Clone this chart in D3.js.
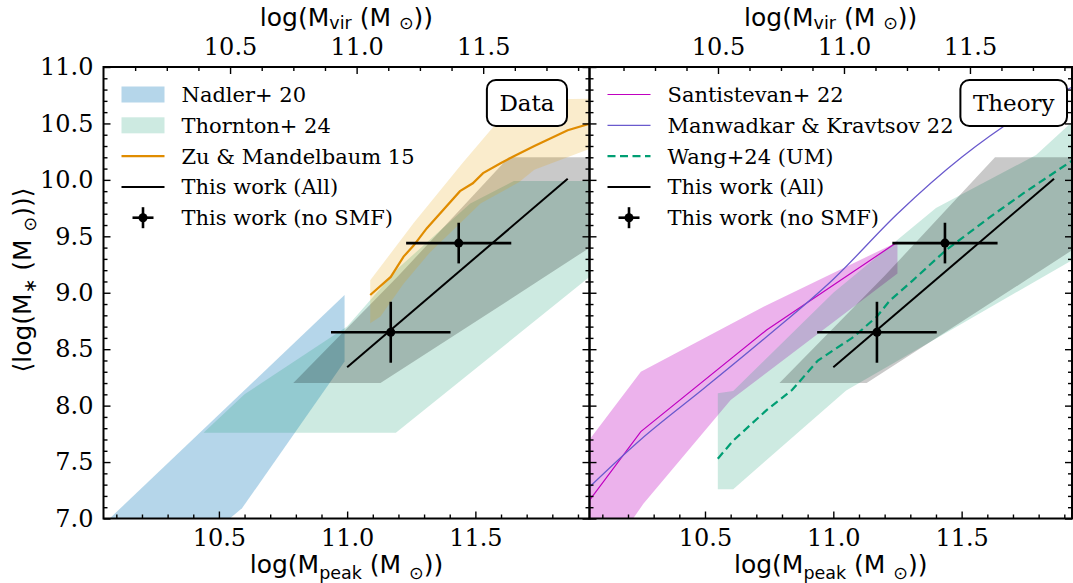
<!DOCTYPE html>
<html>
<head>
<meta charset="utf-8">
<script src="https://cdn.jsdelivr.net/npm/d3@7"></script>
<style>
  body { margin: 0; background: #fff; }
  svg { display: block; }
</style>
</head>
<body>
<script>
"use strict";

// Width and Height of the whole figure
var width = 1073;
var height = 583;

// tick labels
var peakTicks = [10.5, 11.0, 11.5];
var virTicks = [10.5, 11.0, 11.5];
var yTicks = [7.0, 7.5, 8.0, 8.5, 9.0, 9.5, 10.0, 10.5, 11.0];

// ---- Data panel ----
// Nadler+ 20 band: [log Mpeak, log M*]
var nadlerUpper = [[10.0, 6.84], [10.99, 8.98]];
var nadlerLower = [[10.5, 6.92], [10.59, 7.09], [10.99, 8.39]];

// Thornton+ 24 band
var thorntonUpper = [[10.44, 7.76], [10.6, 8.10], [11.0, 8.70], [11.2, 9.22], [11.48, 9.79], [11.65, 9.99], [12.0, 9.99]];
var thorntonLower = [[10.44, 7.76], [11.19, 7.76], [12.0, 9.24]];

// Zu & Mandelbaum 15 line and band
var zuLine = [[11.09, 8.98], [11.17, 9.14], [11.22, 9.32], [11.26, 9.42], [11.31, 9.57], [11.44, 9.90], [11.49, 9.97],
  [11.53, 10.06], [11.60, 10.15], [11.65, 10.21], [11.73, 10.30], [11.86, 10.44], [11.95, 10.50]];
var zuUpper = [[11.09, 9.11], [11.26, 9.62], [11.45, 10.15], [11.66, 10.71], [12.0, 10.72]];
var zuLower = [[11.09, 8.73], [11.13, 8.79], [11.22, 9.08], [11.32, 9.35], [11.52, 9.79], [11.67, 9.98], [11.73, 10.09], [12.0, 10.32]];

// ---- Theory panel ----
var santiLine = [[10.0, 7.01], [10.25, 7.77], [10.74, 8.67], [11.25, 9.45]];
var santiUpper = [[10.0, 7.55], [10.25, 8.30], [10.74, 8.89], [11.25, 9.45]];
var santiLower = [[10.0, 6.6], [10.22, 7.0], [10.26, 7.13], [10.6, 8.05], [11.25, 9.17]];

var manwadkarLine = [[10.0, 7.17], [10.25, 7.70], [10.5, 8.16], [10.74, 8.61], [11.0, 9.12], [11.25, 9.70],
  [11.5, 10.2], [11.75, 10.6], [12.0, 10.9]];

var wangLine = [[10.55, 7.53], [10.61, 7.69], [10.74, 7.96], [10.84, 8.14], [10.94, 8.40], [11.0, 8.49], [11.08, 8.61],
  [11.17, 8.79], [11.22, 8.93], [11.31, 9.11], [11.44, 9.38], [11.61, 9.67], [11.74, 9.88], [11.93, 10.17], [12.0, 10.27]];
var wangUpper = [[10.55, 8.11], [10.61, 8.13], [11.0, 9.0], [11.4, 9.75], [11.79, 10.22], [12.0, 10.66]];
var wangLower = [[10.55, 7.26], [10.61, 7.26], [11.05, 8.135], [12.0, 9.38]];

// ---- This work (both panels) ----
var allLine = [[11.0, 8.34], [11.86, 10.01]];
var allUpper = [[10.79, 8.2], [11.2, 9.15], [11.63, 10.2], [12.0, 10.2]];
var allLower = [[10.79, 8.2], [11.13, 8.2], [11.75, 9.11], [12.0, 9.48]];

var noSmfX = [11.17, 11.435];
var noSmfY = [8.65, 9.44];
var noSmfXerr = [0.233, 0.205];
var noSmfYerr = [0.27, 0.18];

// Create SVG
var svg = d3.select("body")
  .append("svg")
  .attr("width", width)
  .attr("height", height);

var y = d3.scaleLinear().domain([7, 11]).range([518.5, 67]);

var panels = [
  { id: "data", x0: 103.5, x1: 589.5, dom: [10.05, 11.945], top: [10.0, 11.92], label: "Data", boxRight: 22.5, yLabels: true },
  { id: "theory", x0: 589.5, x1: 1072, dom: [10.05, 11.93], top: [9.99, 11.905], label: "Theory", boxRight: 5, yLabels: false }
];

var serif = "'DejaVu Serif', serif";
var sans = "'DejaVu Sans', sans-serif";

function band(g, xs, up, lo, color, op) {
  var pts = up.concat(lo.slice().reverse());
  g.append("path")
    .attr("d", d3.line().x(d => xs(d[0])).y(d => y(d[1]))(pts) + "Z")
    .attr("fill", color)
    .attr("fill-opacity", op)
    .attr("stroke", "none");
}

function curve(g, xs, pts, color, w, dash, smooth) {
  g.append("path")
    .attr("d", d3.line().curve(smooth ? d3.curveMonotoneX : d3.curveLinear)
      .x(d => xs(d[0])).y(d => y(d[1]))(pts))
    .attr("fill", "none")
    .attr("stroke", color)
    .attr("stroke-width", w)
    .attr("stroke-dasharray", dash || null);
}

function errbars(g, xs) {
  noSmfX.forEach(function (v, i) {
    g.append("line")
      .attr("x1", xs(v - noSmfXerr[i])).attr("x2", xs(v + noSmfXerr[i]))
      .attr("y1", y(noSmfY[i])).attr("y2", y(noSmfY[i]))
      .attr("stroke", "#000").attr("stroke-width", 2.6);
    g.append("line")
      .attr("x1", xs(v)).attr("x2", xs(v))
      .attr("y1", y(noSmfY[i] - noSmfYerr[i])).attr("y2", y(noSmfY[i] + noSmfYerr[i]))
      .attr("stroke", "#000").attr("stroke-width", 2.6);
    g.append("circle")
      .attr("cx", xs(v)).attr("cy", y(noSmfY[i])).attr("r", 4.5)
      .attr("fill", "#000");
  });
}

// text with subscripts, parts = [[string, isSub], ...]
function rich(t, parts, size, sub) {
  var shift = 0;
  parts.forEach(function (p) {
    var want = p[1] ? size * sub : 0;
    t.append("tspan")
      .attr("dy", want - shift)
      .attr("font-size", p[1] ? size * 0.7 : size)
      .text(p[0]);
    shift = want;
  });
}

function styleAxis(a) {
  a.select(".domain").remove();
  a.selectAll(".tick line").attr("stroke", "#000").attr("stroke-width", 1.4);
  a.attr("font-family", serif).attr("font-size", 24);
  a.selectAll("text").attr("fill", "#000");
}

var minorPeak = d3.range(101, 120).map(d => d / 10).filter(d => Math.round(d * 10) % 5 !== 0);
var minorY = d3.range(70, 111).map(d => d / 10).filter(d => Math.round(d * 10) % 5 !== 0);
var minorVir = d3.range(0, 16).map(i => 10 + i * 0.125).filter(d => virTicks.indexOf(d) < 0 && d > 10.0);
var fmt = d3.format(".1f");

panels.forEach(function (p) {
  var xs = d3.scaleLinear().domain(p.dom).range([p.x0, p.x1]);
  var xt = d3.scaleLinear().domain(p.top).range([p.x0, p.x1]);
  var g = svg.append("g");

  svg.append("clipPath").attr("id", "clip-" + p.id)
    .append("rect")
    .attr("x", p.x0).attr("y", y(11))
    .attr("width", p.x1 - p.x0).attr("height", y(7) - y(11));

  var plot = g.append("g").attr("clip-path", "url(#clip-" + p.id + ")");

  if (p.id === "data") {
    band(plot, xs, nadlerUpper, nadlerLower, "#6baed6", 0.5);
    band(plot, xs, thorntonUpper, thorntonLower, "#1b9e77", 0.22);
    band(plot, xs, allUpper, allLower, "#000", 0.21);
    band(plot, xs, zuUpper, zuLower, "#e69f00", 0.2);
    curve(plot, xs, zuLine, "#e08c00", 2.2);
  } else {
    band(plot, xs, santiUpper, santiLower, "#bf00bf", 0.3);
    band(plot, xs, wangUpper, wangLower, "#1b9e77", 0.22);
    band(plot, xs, allUpper, allLower, "#000", 0.21);
    curve(plot, xs, santiLine, "#c000c0", 1.2);
    curve(plot, xs, manwadkarLine, "#6a5acd", 1.3, null, true);
    curve(plot, xs, wangLine, "#009e73", 2.2, "8,4.5");
  }
  curve(plot, xs, allLine, "#000", 2);
  errbars(plot, xs);

  // axes, ticks pointing inward
  var bottom = g.append("g").attr("transform", "translate(0," + y(7) + ")");
  bottom.append("g").call(d3.axisBottom(xs).tickValues(peakTicks).tickSize(-7).tickPadding(10).tickFormat(fmt));
  bottom.append("g").call(d3.axisBottom(xs).tickValues(minorPeak).tickSize(-4).tickFormat(""));
  bottom.selectAll("g").each(function () { styleAxis(d3.select(this)); });

  var top = g.append("g").attr("transform", "translate(0," + y(11) + ")");
  top.append("g").call(d3.axisTop(xt).tickValues(virTicks).tickSize(-7).tickPadding(12).tickFormat(fmt));
  top.append("g").call(d3.axisTop(xt).tickValues(minorVir).tickSize(-4).tickFormat(""));
  top.selectAll("g").each(function () { styleAxis(d3.select(this)); });

  var left = g.append("g").attr("transform", "translate(" + p.x0 + ",0)");
  left.append("g").call(d3.axisLeft(y).tickValues(yTicks).tickSize(-7).tickPadding(10).tickFormat(p.yLabels ? fmt : ""));
  left.append("g").call(d3.axisLeft(y).tickValues(minorY).tickSize(-4).tickFormat(""));
  left.selectAll("g").each(function () { styleAxis(d3.select(this)); });

  var right = g.append("g").attr("transform", "translate(" + p.x1 + ",0)");
  right.append("g").call(d3.axisRight(y).tickValues(yTicks).tickSize(-7).tickFormat(""));
  right.append("g").call(d3.axisRight(y).tickValues(minorY).tickSize(-4).tickFormat(""));
  right.selectAll("g").each(function () { styleAxis(d3.select(this)); });

  // spines
  g.append("rect")
    .attr("x", p.x0).attr("y", y(11))
    .attr("width", p.x1 - p.x0).attr("height", y(7) - y(11))
    .attr("fill", "none").attr("stroke", "#000").attr("stroke-width", 2);

  // axis labels
  var cx = (p.x0 + p.x1) / 2;
  rich(g.append("text").attr("x", cx).attr("y", 573).attr("text-anchor", "middle")
    .attr("font-family", sans).attr("fill", "#000"),
    [["log(M", 0], ["peak", 1], [" (M ", 0], ["\u2299", 1], ["))", 0]], 25, 0.22);
  rich(g.append("text").attr("x", cx).attr("y", 26).attr("text-anchor", "middle")
    .attr("font-family", sans).attr("fill", "#000"),
    [["log(M", 0], ["vir", 1], [" (M ", 0], ["\u2299", 1], ["))", 0]], 25, 0.12);

  // legend
  var lg = g.append("g").attr("font-family", serif).attr("font-size", 21);
  var items = p.id === "data"
    ? [["patch", "#6baed6", 0.5, "Nadler+ 20"],
       ["patch", "#1b9e77", 0.22, "Thornton+ 24"],
       ["line", "#e08c00", 2.2, "Zu & Mandelbaum 15"],
       ["line", "#000", 2, "This work (All)"],
       ["err", "#000", 2.6, "This work (no SMF)"]]
    : [["line", "#c000c0", 1.2, "Santistevan+ 22"],
       ["line", "#6a5acd", 1.3, "Manwadkar & Kravtsov 22"],
       ["dash", "#009e73", 2.2, "Wang+24 (UM)"],
       ["line", "#000", 2, "This work (All)"],
       ["err", "#000", 2.6, "This work (no SMF)"]];
  items.forEach(function (it, i) {
    var ry = 94.5 + i * 30.8;
    var hx0 = p.x0 + 18, hx1 = p.x0 + 61;
    if (it[0] === "patch") {
      lg.append("rect").attr("x", hx0).attr("y", ry - 8).attr("width", hx1 - hx0).attr("height", 16)
        .attr("fill", it[1]).attr("fill-opacity", it[2]);
    } else if (it[0] === "err") {
      var mx = (hx0 + hx1) / 2;
      lg.append("line").attr("x1", mx - 10.5).attr("x2", mx + 10.5).attr("y1", ry).attr("y2", ry)
        .attr("stroke", it[1]).attr("stroke-width", it[2]);
      lg.append("line").attr("x1", mx).attr("x2", mx).attr("y1", ry - 10.5).attr("y2", ry + 10.5)
        .attr("stroke", it[1]).attr("stroke-width", it[2]);
      lg.append("circle").attr("cx", mx).attr("cy", ry).attr("r", 4.5).attr("fill", it[1]);
    } else {
      lg.append("line").attr("x1", hx0).attr("x2", hx1).attr("y1", ry).attr("y2", ry)
        .attr("stroke", it[1]).attr("stroke-width", it[2])
        .attr("stroke-dasharray", it[0] === "dash" ? "8,4.5" : null);
    }
    lg.append("text").attr("x", p.x0 + 78).attr("y", ry).attr("dy", "0.36em")
      .attr("fill", "#000").text(it[3]);
  });

  // Data / Theory box
  var bt = g.append("text")
    .attr("font-family", serif).attr("font-size", 23)
    .attr("text-anchor", "middle").attr("dy", "0.36em")
    .attr("fill", "#000").text(p.label);
  var tw = bt.node().getComputedTextLength();
  var bw = tw + 25;
  var bx = p.x1 - p.boxRight - bw;
  g.insert("rect", function () { return bt.node(); })
    .attr("x", bx).attr("y", 80).attr("width", bw).attr("height", 46)
    .attr("rx", 9).attr("ry", 9)
    .attr("fill", "#fff").attr("stroke", "#000").attr("stroke-width", 2);
  bt.attr("x", bx + bw / 2).attr("y", 103);
});

// y axis label
rich(svg.append("text")
  .attr("transform", "translate(31,280) rotate(-90)")
  .attr("text-anchor", "middle")
  .attr("font-family", sans).attr("fill", "#000"),
  [["\u27E8log(M", 0], ["\u2217", 1], ["  (M ", 0], ["\u2299", 1], ["))\u27E9", 0]], 25, 0.2);
</script>
</body>
</html>
